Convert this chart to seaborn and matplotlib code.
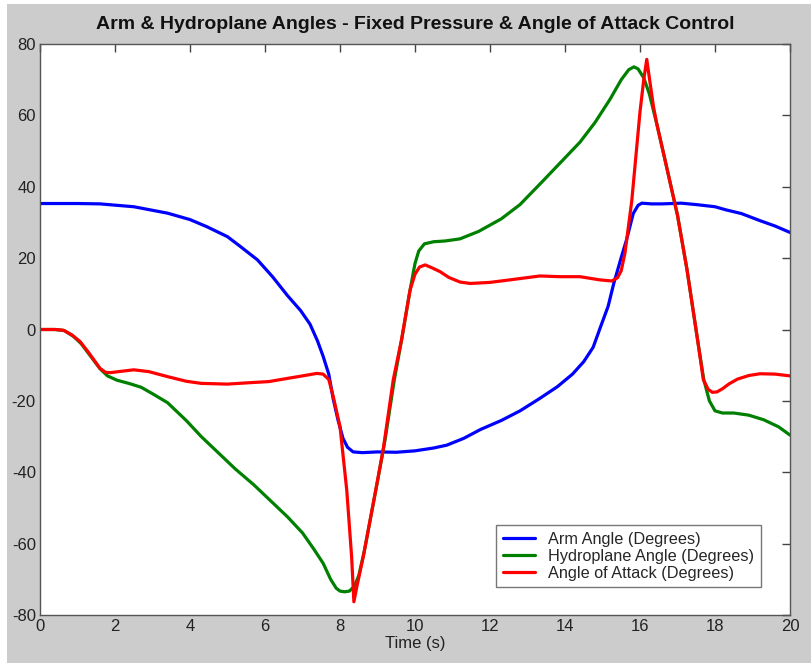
import matplotlib
matplotlib.use("Agg")
import matplotlib.pyplot as plt
from matplotlib import font_manager
from matplotlib.patches import Rectangle
import numpy as np
import pandas as pd
import seaborn as sns

# Arm angle (degrees) against time (s)
arm_t = [0, 1, 1.6, 2.5, 3.4, 4.0, 4.45, 5.0, 5.35, 5.8, 6.2, 6.6, 6.95, 7.2, 7.4,
         7.55, 7.7, 7.82, 7.95, 8.08, 8.2, 8.35, 8.6, 9.0, 9.5, 10.0, 10.5, 10.85,
         11.3, 11.75, 12.3, 12.8, 13.3, 13.8, 14.2, 14.5, 14.75, 14.95, 15.15, 15.3,
         15.5, 15.64, 15.82, 15.95, 16.05, 16.3, 16.6, 17.1, 17.5, 18.0, 18.3, 18.7,
         19.2, 19.6, 20.0]
arm_deg = [35.3, 35.3, 35.2, 34.4, 32.6, 30.8, 28.8, 26.0, 23.2, 19.5, 14.8, 9.5, 5.3,
           1.5, -3.2, -7.5, -12.5, -19.5, -25.5, -30.5, -33.0, -34.3, -34.5, -34.3,
           -34.4, -34.0, -33.2, -32.4, -30.5, -28.0, -25.5, -22.8, -19.5, -16.0,
           -12.5, -9.0, -5.0, 0.8, 6.5, 12.9, 20.2, 25.1, 32.5, 34.8, 35.4, 35.2,
           35.2, 35.4, 35.0, 34.4, 33.5, 32.5, 30.5, 29.0, 27.2]

# Hydroplane angle (degrees) against time (s)
hydro_t = [0, 0.4, 0.65, 0.9, 1.1, 1.35, 1.6, 1.8, 2.05, 2.4, 2.7, 3.0, 3.4, 3.9, 4.3,
           4.8, 5.2, 5.7, 6.1, 6.6, 7.0, 7.3, 7.55, 7.75, 7.9, 8.0, 8.12, 8.25, 8.38,
           8.5, 8.65, 9.0, 9.2, 9.45, 9.65, 9.85, 10.0, 10.1, 10.25, 10.5, 10.8, 11.2,
           11.7, 12.3, 12.8, 13.4, 13.9, 14.4, 14.8, 15.2, 15.5, 15.7, 15.84, 15.95,
           16.1, 16.25, 16.45, 16.7, 17.0, 17.25, 17.5, 17.7, 17.85, 18.0, 18.2, 18.5,
           18.9, 19.3, 19.7, 20.0]
hydro_deg = [0, 0, -0.3, -2.0, -4.0, -7.5, -11.0, -13.0, -14.2, -15.2, -16.2, -18.0,
             -20.5, -25.5, -30.0, -35.0, -39.0, -43.5, -47.5, -52.5, -57.0, -61.5,
             -65.5, -70.0, -72.5, -73.3, -73.5, -73.3, -72.0, -69.0, -62.0, -42.5,
             -31.0, -14.0, -2.5, 10.0, 18.5, 22.0, 24.0, 24.6, 24.8, 25.4, 27.5, 31.0,
             35.0, 41.5, 47.0, 52.5, 58.0, 64.5, 70.0, 72.8, 73.6, 73.0, 70.5, 66.0,
             57.5, 46.0, 32.0, 17.0, -0.5, -14.0, -20.0, -22.8, -23.4, -23.4, -24.0,
             -25.3, -27.3, -29.6]

# Angle of attack (degrees) against time (s)
attack_t = [0, 0.4, 0.62, 0.85, 1.07, 1.3, 1.6, 1.75, 1.87, 2.1, 2.5, 2.9, 3.4, 3.9,
            4.3, 5.0, 5.6, 6.1, 6.6, 7.0, 7.38, 7.55, 7.7, 7.82, 8.0, 8.18, 8.31, 8.37,
            8.45, 8.62, 8.9, 9.15, 9.42, 9.64, 9.87, 10.0, 10.12, 10.27, 10.45, 10.67,
            10.9, 11.2, 11.47, 12.0, 12.6, 13.33, 13.87, 14.4, 14.93, 15.25, 15.4,
            15.5, 15.6, 15.78, 16.0, 16.1, 16.18, 16.27, 16.36, 16.45, 16.7, 17.0,
            17.25, 17.51, 17.69, 17.82, 17.93, 18.05, 18.2, 18.38, 18.6, 18.9, 19.2,
            19.6, 20.0]
attack_deg = [0, 0, -0.2, -1.5, -3.4, -6.5, -10.9, -12.0, -12.1, -11.8, -11.3, -11.8,
              -13.2, -14.5, -15.1, -15.3, -14.9, -14.6, -13.7, -13.0, -12.3, -12.5,
              -14.0, -18.8, -27.2, -45.0, -63.7, -76.3, -72.0, -63.7, -48.0, -33.8,
              -14.1, -2.9, 11.1, 15.5, 17.5, 18.1, 17.3, 16.2, 14.6, 13.3, 12.9, 13.2,
              14.0, 15.0, 14.8, 14.8, 13.9, 13.6, 14.5, 16.5, 21.5, 36.0, 61.0, 70.0,
              75.7, 69.0, 62.4, 57.5, 46.0, 32.0, 17.0, -1.1, -14.1, -16.8, -17.6,
              -17.5, -16.6, -15.2, -13.9, -12.9, -12.4, -12.5, -13.0]

series_names = ["Arm Angle (Degrees)", "Hydroplane Angle (Degrees)",
                "Angle of Attack (Degrees)"]
series_colors = ["#0000ff", "#008000", "#ff0000"]

x_ticks = list(range(0, 21, 2))
y_ticks = list(range(-80, 81, 20))

frames = []
for name, t, v in zip(series_names, [arm_t, hydro_t, attack_t],
                      [arm_deg, hydro_deg, attack_deg]):
    frames.append(pd.DataFrame({"Time (s)": t, "Angle": v, "Series": name}))
data = pd.concat(frames, ignore_index=True)

sns.set_style("white")
plt.rcParams["font.family"] = ["Liberation Sans", "DejaVu Sans"]

# Condensed face for axis text when available
installed = {f.name for f in font_manager.fontManager.ttflist}
if "Liberation Sans Narrow" in installed:
    axis_family = ["Liberation Sans Narrow", "Liberation Sans", "DejaVu Sans"]
    tick_size, title_size = 14, 15
else:
    axis_family = ["Liberation Sans", "DejaVu Sans"]
    tick_size, title_size = 12, 14

fig = plt.figure(figsize=(8.11, 6.63), dpi=100)
fig.patch.set_facecolor("white")
fig.patches.append(Rectangle((7 / 811, 0), 1, 659 / 663, transform=fig.transFigure,
                             facecolor="#cccccc", edgecolor="none", zorder=-10))

ax = fig.add_axes([40 / 811, 48 / 663, 750 / 811, 571 / 663])
ax.set_facecolor("white")

sns.lineplot(data=data, x="Time (s)", y="Angle", hue="Series",
             palette=dict(zip(series_names, series_colors)), sort=False,
             estimator=None, linewidth=2.3, ax=ax)

ax.set_xlim(0, 20)
ax.set_ylim(-80, 80)
ax.set_xticks(x_ticks)
ax.set_yticks(y_ticks)
ax.set_xticklabels([str(v) for v in x_ticks], family=axis_family)
ax.set_yticklabels([str(v) for v in y_ticks], family=axis_family)
ax.tick_params(direction="in", length=6, width=1, color="#444444",
               top=True, right=True, labelsize=tick_size, labelcolor="#222222", pad=3)
for sp in ax.spines.values():
    sp.set_visible(True)
    sp.set_color("#555555")
    sp.set_linewidth(1.0)

ax.set_xlabel("Time (s)", fontsize=tick_size, color="#222222", labelpad=1,
              family=axis_family)
ax.set_ylabel("")
ax.set_title("Arm & Hydroplane Angles - Fixed Pressure & Angle of Attack Control",
             fontsize=title_size, fontweight="bold", color="#111111", pad=11,
             family=axis_family)

leg = ax.legend(loc="lower right", bbox_to_anchor=(0.961, 0.049), frameon=True,
                fancybox=False, fontsize=11.7, handlelength=2.0, handletextpad=0.8,
                borderpad=0.4, labelspacing=0.12, borderaxespad=0)
leg.get_frame().set_edgecolor("#555555")
leg.get_frame().set_linewidth(1.0)
for line in leg.get_lines():
    line.set_linewidth(2.3)

fig.savefig("out.png", dpi=100, facecolor=fig.get_facecolor())
